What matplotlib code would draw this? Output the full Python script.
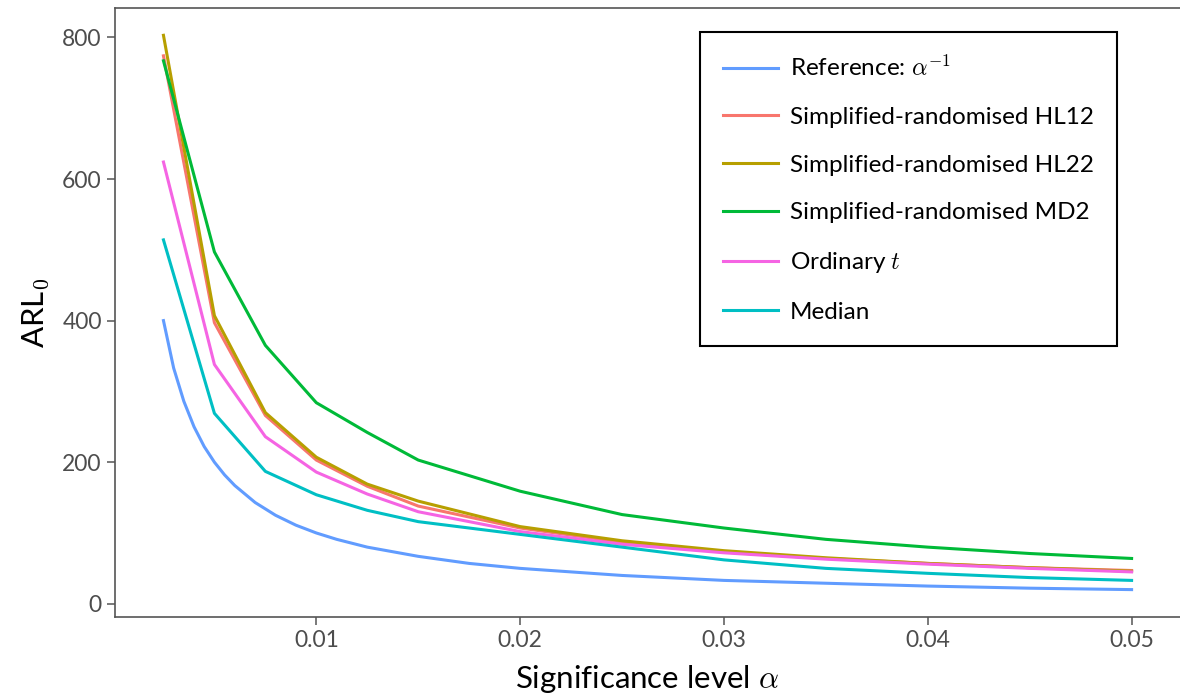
import matplotlib.pyplot as plt
import numpy as np

plt.rcParams['font.family'] = ['Lato', 'DejaVu Sans']
plt.rcParams['mathtext.fontset'] = 'cm'

# significance levels used for the simulated curves
alpha = [0.0025, 0.005, 0.0075, 0.01, 0.0125, 0.015, 0.02, 0.025, 0.03, 0.035, 0.04, 0.045, 0.05]

hl12 = [774, 397, 266, 203, 166, 138, 107, 87, 73, 64, 57, 51, 47]
hl22 = [803, 407, 270, 207, 169, 145, 109, 89, 75, 65, 57, 51, 46]
md2 = [767, 497, 365, 284, 242, 203, 159, 126, 107, 91, 80, 71, 64]
ord_t = [624, 338, 236, 186, 155, 130, 102, 84, 72, 63, 56, 50, 45]
median = [514, 269, 187, 154, 132, 116, 98, 80, 62, 50, 43, 37, 33]

# reference curve (alpha^-1)
ref_alpha = [0.0025, 0.003, 0.0035, 0.004, 0.0045, 0.005, 0.0055, 0.006, 0.007, 0.008, 0.009,
             0.01, 0.011, 0.0125, 0.015, 0.0175, 0.02, 0.025, 0.03, 0.035, 0.04, 0.045, 0.05]
ref_arl = [400, 333, 286, 250, 222, 200, 182, 167, 143, 125, 111,
           100, 91, 80, 67, 57, 50, 40, 33, 29, 25, 22, 20]

labels = ['Reference: $\\alpha^{-1}$', 'Simplified-randomised HL12', 'Simplified-randomised HL22',
          'Simplified-randomised MD2', 'Ordinary $t$', 'Median']
colors = ['#619CFF', '#F8766D', '#B79F00', '#00BA38', '#F564E3', '#00BFC4']

fig = plt.figure(figsize=(11.8, 6.99), dpi=100)
ax = fig.add_axes([0.0975, 0.117, 0.9025, 0.872])

ax.plot(ref_alpha, ref_arl, color=colors[0], lw=2.2, label=labels[0])
series = [hl12, hl22, md2, ord_t, median]
for s, lab, col in zip(series, labels[1:], colors[1:]):
    ax.plot(alpha, s, color=col, lw=2.2, label=lab)

ax.set_xlim(0.000125, 0.052375)
ax.set_ylim(-19, 842)
ax.set_xticks([0.01, 0.02, 0.03, 0.04, 0.05])
ax.set_xticklabels(['0.01', '0.02', '0.03', '0.04', '0.05'])
ax.set_yticks([0, 200, 400, 600, 800])

for side in ['left', 'bottom', 'top']:
    ax.spines[side].set_color('#555555')
    ax.spines[side].set_linewidth(1.2)
ax.spines['right'].set_visible(False)
ax.tick_params(colors='#555555', labelcolor='#4D4D4D', labelsize=16.5, length=6, width=1.1)

ax.set_xlabel('Significance level $\\alpha$', fontsize=22.5, labelpad=8)
ax.set_ylabel('ARL$_0$', fontsize=22.5, labelpad=8)

leg = ax.legend(loc='upper right', bbox_to_anchor=(0.941, 0.9606), borderaxespad=0,
                fontsize=17.5, frameon=True, fancybox=False, edgecolor='black',
                handlelength=2.25, labelspacing=1.1, borderpad=0.95, handletextpad=0.5,
                framealpha=1)
leg.get_frame().set_linewidth(1.5)

fig.savefig('out.png', dpi=100)
